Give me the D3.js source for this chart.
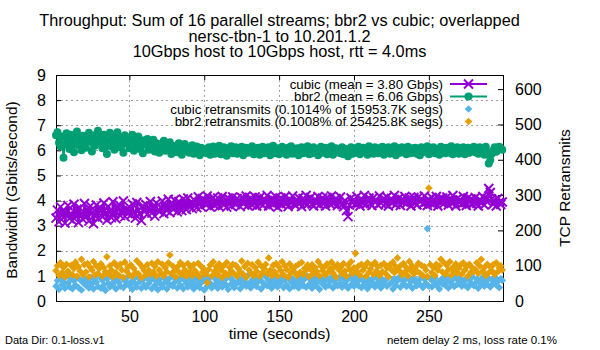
<!DOCTYPE html>
<html><head><meta charset="utf-8">
<script src="https://cdn.jsdelivr.net/npm/d3@7"></script>
<style>
body{margin:0;background:#fff}
svg{display:block}
text{font-family:"Liberation Sans",Arial,sans-serif;fill:#000}
</style>
</head><body>
<svg id="chart" width="600" height="350"></svg>
<script>
// ---------------- data ----------------
const titleLines = ["Throughput: Sum of 16 parallel streams; bbr2 vs cubic; overlapped",
  "nersc-tbn-1 to 10.201.1.2", "10Gbps host to 10Gbps host, rtt = 4.0ms"];
const seriesNames = ["cubic (mean = 3.80 Gbps)", "bbr2 (mean = 6.06 Gbps)",
  "cubic retransmits (0.1014% of 15953.7K segs)", "bbr2 retransmits (0.1008% of 25425.8K segs)"];
const xTicks = [50, 100, 150, 200, 250];
const yTicks = [0, 1, 2, 3, 4, 5, 6, 7, 8, 9];
const y2Ticks = [0, 100, 200, 300, 400, 500, 600];

// cubic throughput (Gbps), one value per second starting at t = 1
const cubic = [
3.30,3.62,3.15,3.75,3.40,3.58,3.10,3.52,3.80,3.28,
3.48,3.20,3.85,3.38,3.66,3.12,3.70,3.45,3.25,3.88,
3.35,3.64,3.18,3.78,3.50,3.08,3.45,3.82,3.30,3.60,
3.70,3.35,3.90,3.50,3.22,3.76,3.55,3.32,3.95,3.45,
3.28,3.68,3.84,3.40,3.60,3.98,3.36,3.66,3.48,3.74,
3.42,3.86,3.55,3.30,3.92,3.62,3.46,3.20,3.78,3.56,
3.84,3.46,3.68,3.96,3.50,3.76,3.38,3.90,3.62,3.55,
3.72,3.98,3.48,3.80,3.60,4.05,3.52,3.86,3.66,4.02,
3.74,3.55,3.96,3.78,3.60,4.06,3.82,3.64,4.10,3.76,
3.92,3.68,4.04,3.82,3.72,4.15,3.88,3.76,4.08,3.95,
3.84,4.18,3.92,3.74,4.06,4.12,3.80,3.94,4.10,3.76,
3.98,4.16,3.82,4.02,3.74,4.10,3.90,3.78,4.14,3.96,
3.84,4.08,3.98,3.76,4.12,3.88,4.02,4.18,3.80,3.96,
4.10,3.82,3.98,4.14,3.78,4.02,4.12,3.88,3.80,4.06,
3.96,4.20,3.78,3.92,4.08,3.84,4.00,4.14,3.74,3.96,
4.10,3.82,3.98,4.16,3.88,3.76,4.06,3.94,4.18,3.86,
3.80,4.02,4.12,3.90,3.76,4.08,3.96,4.20,3.84,3.98,
4.12,3.86,3.78,4.04,3.92,4.16,3.82,4.00,4.10,3.88,
3.78,4.12,3.96,3.86,4.18,3.90,4.02,4.08,3.80,3.94,
4.14,3.84,3.76,4.00,3.60,3.36,3.82,4.10,3.92,4.02,
3.86,4.16,3.90,3.78,4.06,3.96,4.20,3.84,3.98,4.10,
3.88,3.80,4.12,3.94,4.02,3.82,4.18,3.90,3.98,4.08,
3.86,4.14,3.78,4.00,4.06,3.92,4.20,3.84,3.96,4.10,
3.80,4.04,3.94,4.16,3.88,3.98,4.10,3.78,4.02,4.12,
3.90,3.82,4.14,3.96,4.06,3.86,4.18,3.94,3.80,4.04,
3.92,4.12,3.84,4.00,4.16,3.78,4.06,3.94,4.10,3.88,
3.98,4.14,3.82,4.04,3.90,4.20,3.96,3.78,4.08,3.94,
4.02,3.86,4.16,3.92,3.80,4.10,3.98,4.06,3.84,3.96,
4.12,3.88,3.78,4.04,3.94,4.16,3.82,4.00,4.08,4.48,
4.32,4.06,3.86,3.98,3.78,4.08,3.92,3.84,3.94];

// bbr2 throughput (Gbps)
const bbr2 = [
6.60,6.72,6.30,6.15,6.55,5.70,6.25,6.68,6.40,6.05,
6.62,6.28,5.92,6.50,6.75,6.20,6.45,6.00,6.58,6.32,
6.10,6.52,6.70,6.35,5.95,6.48,6.18,6.64,6.78,6.30,
6.48,6.08,6.62,6.30,5.85,6.40,6.70,6.15,6.55,6.02,
6.38,6.72,6.12,6.50,6.22,5.90,6.60,6.28,6.45,6.08,
6.35,6.62,5.98,6.42,6.20,6.55,6.05,6.32,5.88,6.40,
6.22,6.45,6.02,6.30,6.10,6.42,5.95,6.28,6.18,5.90,
6.25,6.05,6.38,5.98,6.20,6.08,6.32,5.85,6.15,6.00,
6.18,5.92,6.28,6.05,5.82,6.12,6.25,5.98,6.10,5.90,
6.08,6.20,5.86,6.05,6.15,5.95,5.80,6.10,6.02,5.92,
6.02,5.88,6.12,5.82,6.00,6.15,5.86,6.06,5.94,6.18,
5.84,6.04,6.12,5.92,5.78,6.08,5.98,6.16,5.88,6.02,
6.12,5.86,6.04,5.94,6.14,5.80,6.00,6.10,5.90,6.06,
5.96,6.16,5.84,6.04,5.92,6.10,5.82,5.98,6.14,5.88,
6.06,5.92,6.12,5.80,6.02,6.18,5.88,5.98,6.08,5.84,
6.00,6.14,5.90,6.04,5.82,6.10,5.94,6.16,5.86,6.02,
5.92,6.08,5.80,6.02,6.12,5.88,6.06,5.96,6.16,5.84,
6.04,5.88,6.12,5.94,6.00,5.80,6.08,6.14,5.90,5.98,
6.10,5.84,6.02,5.94,6.16,5.82,6.00,6.08,5.92,5.98,
5.88,6.12,5.84,6.06,5.96,5.76,6.04,6.12,5.86,6.02,
6.08,5.90,6.14,5.84,6.00,6.10,5.92,6.04,5.82,6.16,
5.94,6.04,5.86,6.12,5.98,5.88,6.08,5.92,6.14,5.82,
6.02,5.94,6.12,5.86,6.06,5.96,6.16,5.80,6.00,6.08,
5.90,6.12,5.94,6.04,5.84,6.14,5.98,5.88,6.08,5.96,
6.10,5.86,6.02,5.80,6.12,5.92,6.06,5.96,6.16,5.84,
6.02,5.94,6.12,5.88,6.04,5.98,5.82,6.14,5.92,6.08,
5.88,6.10,5.98,5.90,6.16,5.84,6.02,5.96,6.12,5.86,
6.06,5.96,6.12,5.84,6.02,6.10,5.90,6.06,5.98,6.14,
5.92,6.04,5.86,6.12,5.96,6.02,5.82,6.14,5.90,5.48,
5.62,5.86,6.00,6.12,5.94,6.06,6.14,6.08,6.02];

// cubic retransmits per second
const cubicRetrans = [
42,58,33,66,47,55,36,70,50,40, 62,35,57,45,68,38,60,31,52,64,
44,57,37,67,49,34,61,53,41,70, 36,59,46,30,64,51,40,68,45,56,
34,62,52,42,66,38,57,47,69,43, 54,33,63,48,40,67,55,36,60,45,
39,64,50,58,35,68,44,55,32,61, 48,40,66,53,34,60,46,69,42,52,
62,37,57,45,67,35,58,50,40,64, 44,55,34,68,47,61,38,52,66,31,
57,42,64,50,37,69,45,59,36,53, 66,40,52,61,44,33,67,48,58,38,
47,68,54,35,63,45,56,42,72,50, 37,60,48,67,41,55,63,34,53,45,
69,43,58,50,36,64,47,61,40,56, 52,66,38,60,45,68,35,55,63,42,
48,58,37,67,50,43,62,39,70,47, 60,36,53,65,42,57,33,66,48,55,
40,63,45,58,68,37,52,61,43,66, 50,39,64,47,57,36,69,45,60,42,
67,53,43,62,38,58,48,68,35,56, 45,63,51,40,66,47,55,37,61,50,
59,42,68,48,53,34,63,44,57,67, 39,61,50,60,41,66,45,55,36,64,
53,43,58,47,67,38,62,50,205,42, 63,40,55,66,45,52,34,60,48,68,
44,57,37,64,50,61,41,67,47,54, 66,42,53,45,63,38,58,50,69,43,
51,62,36,57,48,68,42,55,47,64, 40,60,50,67,45,55,38,63,58];

// bbr2 retransmits per second
const bbr2Retrans = [
86,100,72,108,80,95,68,104,84,76, 101,74,92,110,70,97,85,118,75,103,
82,106,68,95,88,112,74,99,78,92, 105,70,94,83,125,76,100,88,69,108,
80,98,72,104,88,67,110,85,96,74, 102,70,92,81,114,77,105,66,94,86,
74,103,87,76,107,82,98,70,111,88, 79,104,71,94,83,108,130,77,99,86,
68,96,82,109,75,101,88,70,106,80, 94,72,103,85,77,107,69,98,83,90,
76,52,89,102,71,111,84,97,74,105, 88,67,100,79,109,73,95,86,104,77,
101,70,91,83,113,76,98,67,107,88, 79,103,72,95,84,110,70,99,81,92,
104,78,122,87,72,101,83,106,71,96, 86,111,74,99,89,67,105,80,94,83,
98,72,104,81,109,76,92,87,102,69, 89,103,77,95,84,112,71,99,86,96,
74,105,82,91,110,79,97,68,103,88, 95,77,106,85,70,101,89,111,78,94,
135,83,99,73,104,87,96,70,108,81, 91,102,76,109,85,97,72,101,83,106,
78,94,69,103,88,110,80,97,122,87, 100,74,106,82,95,71,112,86,99,77,
94,84,107,79,101,72,97,88,69,320, 103,80,95,72,104,87,99,118,82,109,
76,101,88,111,73,95,84,105,79,92, 102,76,108,87,97,70,104,81,94,83,
89,108,78,99,118,85,95,72,104,80, 97,86,103,75,108,83,94,100,88];

const footLeft = "Data Dir: 0.1-loss.v1";
const footRight = "netem delay 2 ms, loss rate 0.1%";

// ---------------- drawing ----------------
const colors = ["#9400d3", "#009e73", "#56b4e9", "#e69f00"];
const L = 56, R = 503, T = 75, B = 301;
const svg = d3.select("#chart");
const times = d3.range(1, cubic.length + 1);

const x = d3.scaleLinear().domain([1, 299.5]).range([L, R]);
const y = d3.scaleLinear().domain([0, 9]).range([B, T]);
const y2 = d3.scaleLinear().domain([0, 640]).range([B, T]);

svg.append("rect").attr("width", 600).attr("height", 350).attr("fill", "#fff");

// grid
const grid = svg.append("g").attr("stroke", "#a0a0a0").attr("stroke-width", 1)
  .attr("stroke-dasharray", "2,3").attr("fill", "none");
yTicks.filter(v => v > 0 && v < 9).forEach(v => {
  grid.append("line").attr("x1", L).attr("x2", R).attr("y1", Math.round(y(v)) + 0.5).attr("y2", Math.round(y(v)) + 0.5);
});
xTicks.forEach(v => {
  grid.append("line").attr("y1", T).attr("y2", B).attr("x1", Math.round(x(v)) + 0.5).attr("x2", Math.round(x(v)) + 0.5);
});

// axes
function styleAxis(g, size) {
  g.select(".domain").remove();
  g.selectAll("text").attr("font-size", size).attr("font-family", "Liberation Sans, Arial, sans-serif").attr("fill", "#000");
  g.selectAll("line").attr("stroke", "#000");
}
svg.append("g").attr("transform", `translate(${L},0)`)
  .call(d3.axisLeft(y).tickValues(yTicks).tickFormat(d3.format("d")).tickSize(-5).tickPadding(10))
  .call(g => styleAxis(g, 16));
svg.append("g").attr("transform", `translate(${R},0)`)
  .call(d3.axisRight(y2).tickValues(y2Ticks).tickFormat(d3.format("d")).tickSize(-5).tickPadding(12))
  .call(g => styleAxis(g, 16));
svg.append("g").attr("transform", `translate(0,${B})`)
  .call(d3.axisBottom(x).tickValues(xTicks).tickFormat(d3.format("d")).tickSize(-5).tickPadding(10))
  .call(g => styleAxis(g, 16));
svg.append("g").attr("transform", `translate(0,${T})`)
  .call(d3.axisTop(x).tickValues(xTicks).tickFormat("").tickSize(-5))
  .call(g => styleAxis(g, 16));

// border
svg.append("rect").attr("x", L + 0.5).attr("y", T + 0.5).attr("width", R - L).attr("height", B - T)
  .attr("fill", "none").attr("stroke", "#000").attr("stroke-width", 1);

// marks
const plot = svg.append("g");
const xMark = (cx, cy, s) => `M${cx - s},${cy - s}L${cx + s},${cy + s}M${cx - s},${cy + s}L${cx + s},${cy - s}`;
const diamond = (cx, cy, s) => `M${cx},${cy - s}L${cx + s},${cy}L${cx},${cy + s}L${cx - s},${cy}Z`;

const line = d3.line().x((d, i) => x(times[i])).y(d => y(d));
plot.append("path").attr("d", line(cubic)).attr("fill", "none").attr("stroke", colors[0]).attr("stroke-width", 2);
plot.append("path").attr("d", cubic.map((v, i) => xMark(x(times[i]), y(v), 4.5)).join(""))
  .attr("fill", "none").attr("stroke", colors[0]).attr("stroke-width", 2);

plot.append("path").attr("d", line(bbr2)).attr("fill", "none").attr("stroke", colors[1]).attr("stroke-width", 2);
plot.selectAll("circle.b").data(bbr2).join("circle").attr("class", "b")
  .attr("cx", (d, i) => x(times[i])).attr("cy", d => y(d)).attr("r", 4).attr("fill", colors[1]);

plot.append("path").attr("d", cubicRetrans.map((v, i) => diamond(x(times[i]), y2(v), 3.8)).join(""))
  .attr("fill", colors[2]);
plot.append("path").attr("d", bbr2Retrans.map((v, i) => diamond(x(times[i]), y2(v), 3.8)).join(""))
  .attr("fill", colors[3]);

// legend
const legY = [84, 96.5, 109, 121.5];
const lg = svg.append("g");
seriesNames.forEach((name, i) => {
  lg.append("text").attr("x", 443).attr("y", legY[i]).attr("dy", "0.35em").attr("text-anchor", "end")
    .attr("font-size", 13.3).text(name);
  const cx = 468.5, cy = legY[i];
  if (i < 2) {
    lg.append("line").attr("x1", 450).attr("x2", 487).attr("y1", cy).attr("y2", cy)
      .attr("stroke", colors[i]).attr("stroke-width", 2);
  }
  if (i === 0) lg.append("path").attr("d", xMark(cx, cy, 4.5)).attr("stroke", colors[0]).attr("stroke-width", 2);
  if (i === 1) lg.append("circle").attr("cx", cx).attr("cy", cy).attr("r", 4).attr("fill", colors[1]);
  if (i >= 2) lg.append("path").attr("d", diamond(cx, cy, 3.8)).attr("fill", colors[i]);
});

// titles
const tg = svg.append("g").attr("text-anchor", "middle");
titleLines.forEach((t, i) => tg.append("text").attr("x", 279.5).attr("y", 26 + i * 15.5).attr("font-size", 16.3).text(t));

svg.append("text").attr("transform", "translate(17,190) rotate(-90)").attr("text-anchor", "middle")
  .attr("font-size", 15.5).text("Bandwidth (Gbits/second)");
svg.append("text").attr("transform", "translate(570,188) rotate(-90)").attr("text-anchor", "middle")
  .attr("font-size", 15.5).text("TCP Retransmits");
svg.append("text").attr("x", 279.5).attr("y", 339).attr("text-anchor", "middle")
  .attr("font-size", 15.5).text("time (seconds)");
svg.append("text").attr("x", 5).attr("y", 344).attr("font-size", 11).text(footLeft);
svg.append("text").attr("x", 557).attr("y", 344).attr("text-anchor", "end").attr("font-size", 11.5).text(footRight);
</script>
</body></html>
